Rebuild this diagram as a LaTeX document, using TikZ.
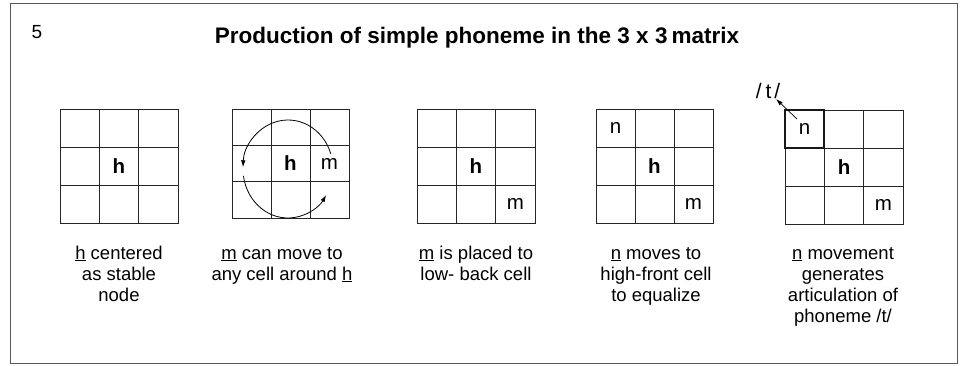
\documentclass[tikz,border=0pt]{standalone}
\usepackage{fontspec}
\setmainfont{Liberation Sans}
\usetikzlibrary{arrows.meta,calc}
\tikzset{
  frame/.style={draw=black!65, line width=1pt},
  gridline/.style={draw=black!85, line width=0.9pt},
  thickcell/.style={draw=black!90, line width=1.8pt},
  cellletter/.style={inner sep=0pt, font=\fontsize{20.5}{22}\selectfont},
  boldletter/.style={inner sep=0pt, font=\fontsize{20.5}{22}\selectfont\bfseries},
  caption/.style={align=center, anchor=north, inner sep=0pt, font=\fontsize{18.5}{21}\selectfont},
  titletext/.style={inner sep=0pt, font=\fontsize{22.5}{25}\selectfont\bfseries},
  numtext/.style={inner sep=0pt, font=\fontsize{19}{21}\selectfont},
  movearrow/.style={draw=black, line width=0.8pt, -{Latex[length=7pt,width=4.5pt]}}
}
\newcommand\capstrut{\rule{0pt}{14pt}}
\begin{document}
\begin{tikzpicture}[x=1pt,y=-1pt]
\useasboundingbox (0,0) rectangle (963,366);
\draw[frame] (10,4) rectangle (957,363);
\node[numtext] (num) at (37,32) {5};
\node[titletext] (title) at (477,38) {Production of simple phoneme in the 3 x 3\kern4pt matrix};

% grids
\foreach \gx/\gy/\gw/\gh [count=\i] in {60/109/118/114, 232/109/117/109, 417/109/118/114, 596/109/117/114, 785/110/118/114} {
  \draw[gridline] (\gx,\gy) rectangle ++(\gw,\gh);
  \draw[gridline] (\gx+\gw/3,\gy) -- ++(0,\gh);
  \draw[gridline] (\gx+2*\gw/3,\gy) -- ++(0,\gh);
  \draw[gridline] (\gx,\gy+\gh/3) -- ++(\gw,0);
  \draw[gridline] (\gx,\gy+2*\gh/3) -- ++(\gw,0);
  \foreach \r in {1,2,3} {
    \foreach \c in {1,2,3} {
      \coordinate (g\i-\r\c) at (\gx+\gw*\c/3-\gw/6, \gy+\gh*\r/3-\gh/6);
    }
  }
}
\draw[thickcell] (785,110) rectangle ++(118/3,114/3);

% letters
\node[boldletter] (h1) at (g1-22) {h};
\node[boldletter] (h2) at (g2-22) {h};
\node[cellletter] (m2) at (g2-23) {m};
\node[boldletter] (h3) at (g3-22) {h};
\node[cellletter] (m3) at (g3-33) {m};
\node[cellletter] (n4) at (g4-11) {n};
\node[boldletter] (h4) at (g4-22) {h};
\node[cellletter] (m4) at (g4-33) {m};
\node[cellletter] (n5) at (g5-11) {n};
\node[boldletter] (h5) at (g5-22) {h};
\node[cellletter] (m5) at (g5-33) {m};

% circular movement arrows in grid 2
\coordinate (circ) at (288,169);
\draw[movearrow] ($(circ)+(-18:45 and 49)$) arc[start angle=-18, end angle=-178, x radius=45, y radius=49];
\draw[movearrow] ($(circ)+(-188:45 and 49)$) arc[start angle=-188, end angle=-328, x radius=45, y radius=49];

% /t/ label and arrow
\node[inner sep=0pt, font=\fontsize{21}{23}\selectfont] (tlab) at (768,91) {/\kern4pt t\kern3pt/};
\coordinate (ntail) at (797,119);
\coordinate (ttip) at (776,99);
\draw[movearrow, line width=0.7pt] (ntail) -- (ttip);

% captions
\node[caption] (cap1) at (119,245) {\capstrut\underline{h} centered\\as stable\\node};
\node[caption] (cap2) at (282,245) {\capstrut\underline{m} can move to\\any cell around \underline{h}};
\node[caption] (cap3) at (476,245) {\capstrut\underline{m} is placed to\\low- back cell};
\node[caption] (cap4) at (656,245) {\capstrut\underline{n} moves to\\high-front cell\\to equalize};
\node[caption] (cap5) at (843,245) {\capstrut\underline{n} movement\\generates\\articulation of\\phoneme /t/};
\end{tikzpicture}
\end{document}
